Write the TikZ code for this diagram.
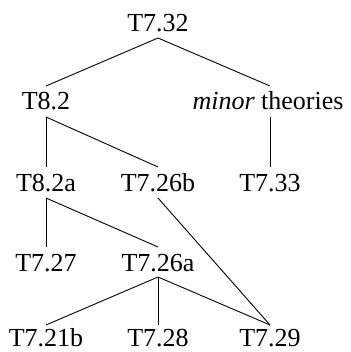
\documentclass[tikz,border=0pt]{standalone}
\usepackage{fontspec}
\setmainfont{Liberation Serif}
\begin{document}
\begin{tikzpicture}[x=1pt,y=-1pt,
  lbl/.style={font=\fontsize{26}{28}\selectfont, anchor=base, inner xsep=0pt, inner ysep=0pt},
  conn/.style={line width=0.9pt}]
\useasboundingbox (0,0) rectangle (350,352);
\node[lbl] (t732) at (158,32) {T7.32};
\node[lbl] (t82) at (46,110) {T8.2};
\node[lbl] (mt) at (268,110) {\textit{minor} theories};
\node[lbl] (t82a) at (46,191) {T8.2a};
\node[lbl] (t726b) at (158,191) {T7.26b};
\node[lbl] (t733) at (270,191) {T7.33};
\node[lbl] (t727) at (46,271) {T7.27};
\node[lbl] (t726a) at (158,271) {T7.26a};
\node[lbl] (t721b) at (46,346) {T7.21b};
\node[lbl] (t728) at (158,346) {T7.28};
\node[lbl] (t729) at (270,346) {T7.29};
\draw[conn] ([yshift=-6pt]t732.base) -- ([yshift=24pt]t82.base);
\draw[conn] ([yshift=-6pt]t732.base) -- ([yshift=24pt]t733.base |- mt.base);
\draw[conn] ([yshift=-7pt]t82.base) -- ([yshift=24pt]t82a.base);
\draw[conn] ([yshift=-7pt]t82.base) -- ([yshift=24pt]t726b.base);
\draw[conn] ([yshift=-7pt]t733.base |- mt.base) -- ([yshift=24pt]t733.base);
\draw[conn] ([yshift=-7pt]t82a.base) -- ([yshift=24pt]t727.base);
\draw[conn] ([yshift=-7pt]t82a.base) -- ([yshift=24pt]t726a.base);
\draw[conn] ([yshift=-7pt]t726b.base) -- ([yshift=21pt]t729.base);
\draw[conn] ([yshift=-6pt]t726a.base) -- ([yshift=21pt]t721b.base);
\draw[conn] ([yshift=-6pt]t726a.base) -- ([yshift=21pt]t728.base);
\draw[conn] ([yshift=-6pt]t726a.base) -- ([yshift=21pt]t729.base);
\end{tikzpicture}
\end{document}
